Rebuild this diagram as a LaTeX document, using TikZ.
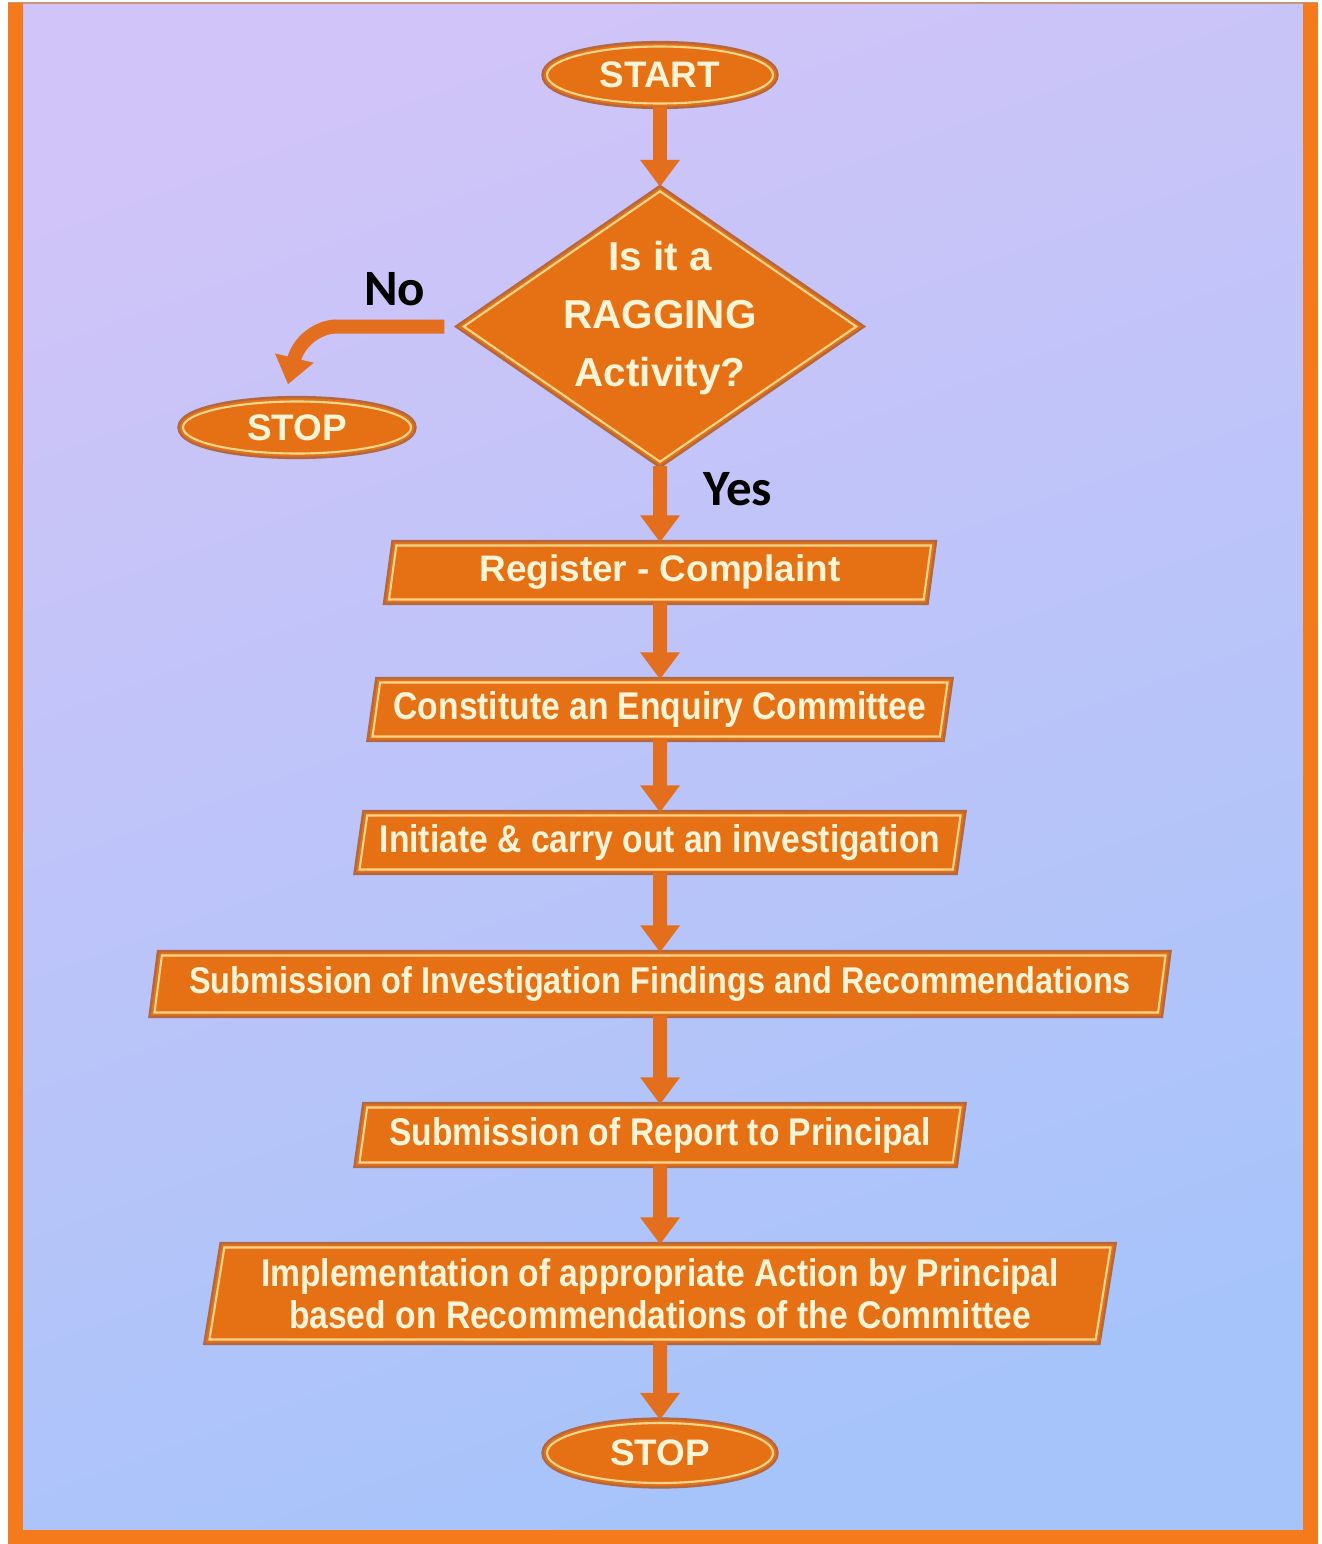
\documentclass[tikz,border=0pt]{standalone}
\usepackage{fontspec}
\setmainfont{Liberation Sans}
\newfontfamily\narrowSans{Liberation Sans}[FakeStretch=0.87]
\newfontfamily\labelSans{Carlito}
\usetikzlibrary{shapes.geometric,arrows.meta,positioning,calc}

\definecolor{flowOrange}{RGB}{230,112,20}
\definecolor{rimBrown}{RGB}{178,104,64}
\definecolor{glowYellow}{RGB}{255,214,140}
\definecolor{creamText}{RGB}{255,244,214}
\definecolor{frameOrange}{RGB}{245,122,28}
\definecolor{arrowOrange}{RGB}{226,110,30}
\definecolor{bgLavender}{RGB}{208,196,248}
\definecolor{bgBlue}{RGB}{166,196,250}

\begin{document}
\begin{tikzpicture}[
			every node/.style={align=center},
			outlined/.style={fill=flowOrange, draw=flowOrange, line width=1.8pt,
					preaction={draw=rimBrown, line width=3.2pt},
					postaction={draw=glowYellow, line width=0.6pt},
					text=creamText},
			terminal/.style={outlined, shape=ellipse, minimum width=2.26cm, minimum height=0.57cm, inner sep=0pt,
					font=\bfseries\fontsize{10.5}{12}\selectfont},
			decision/.style={outlined, shape=diamond, shape aspect=1.43, minimum width=3.95cm, minimum height=2.73cm, inner sep=-0.1cm,
					text depth=0.26cm, font=\bfseries\fontsize{11.5}{16.5}\selectfont},
			process/.style={outlined, shape=trapezium, trapezium left angle=78, trapezium right angle=102,
					trapezium stretches body, minimum height=0.54cm, inner sep=0pt,
					font=\narrowSans\bfseries\fontsize{11}{11.8}\selectfont},  % parallelogram steps
			flowArrow/.style={draw=arrowOrange, line width=0.14cm, -{Triangle[width=0.38cm, length=0.27cm]}},
			answer/.style={font=\labelSans\bfseries\fontsize{14.5}{17}\selectfont, text=black}
		]
		\useasboundingbox (0,0) rectangle (13.22,-15.44);

		% Backdrop and frame
		\shade[top color=bgLavender, bottom color=bgBlue, shading angle=20] (0.23,-0.03) rectangle (13.03,-15.31);
		\draw[rimBrown!70, line width=0.6pt] (0.08,-0.03) -- (13.18,-0.03);
		\draw[frameOrange, line width=0.15cm] (0.155,-0.03) -- (0.155,-15.37) -- (13.105,-15.37) -- (13.105,-0.03);

		% Question
		\node[terminal] (S0) at (6.6,-0.75) {START};
		\node[decision] (Q0) at (6.6,-3.265) {Is it a\\RAGGING\\Activity?};
		\node[terminal, minimum width=2.28cm, minimum height=0.52cm] (S1) at (2.97,-4.275) {STOP};

		% Steps
		\node[process, minimum width=5.42cm, font=\bfseries\fontsize{10.5}{12}\selectfont] (P1) at (6.6,-5.725) {Register - Complaint};
		\node[process, minimum width=5.75cm] (P2) at (6.6,-7.095) {Constitute an Enquiry Committee};
		\node[process, minimum width=6.01cm] (P3) at (6.6,-8.425) {Initiate \& carry out an investigation};
		\node[process, minimum width=10.11cm, minimum height=0.57cm, font=\narrowSans\bfseries\fontsize{10.6}{12}\selectfont] (P4) at (6.6,-9.84) {Submission of Investigation Findings and Recommendations};
		\node[process, minimum width=6.01cm, minimum height=0.55cm] (P5) at (6.6,-11.35) {Submission of Report to Principal};
		\node[process, minimum width=9.01cm, minimum height=0.92cm] (P6) at (6.6,-12.935) {Implementation of appropriate Action by Principal\\based on Recommendations of the Committee};
		\node[terminal, minimum height=0.60cm] (S2) at (6.6,-14.53) {STOP};

		% Arrows
		\draw[flowArrow] (S0) -- (Q0);
		\draw[flowArrow, rounded corners=0.35cm] ([xshift=-0.15cm]Q0.west) -- node[answer, above=0.02cm, pos=0.35] {No} ([xshift=0.05cm]S1.north |- Q0.west) -- ([xshift=-0.09cm, yshift=0.14cm]S1.north);
		\draw[flowArrow] (Q0) -- node[answer, right=0.25cm, pos=0.3] {Yes} (P1);
		\draw[flowArrow] (P1) -- (P2);
		\draw[flowArrow] (P2) -- (P3);
		\draw[flowArrow] (P3) -- (P4);
		\draw[flowArrow] (P4) -- (P5);
		\draw[flowArrow] (P5) -- (P6);
		\draw[flowArrow] (P6) -- (S2);
	\end{tikzpicture}
\end{document}
